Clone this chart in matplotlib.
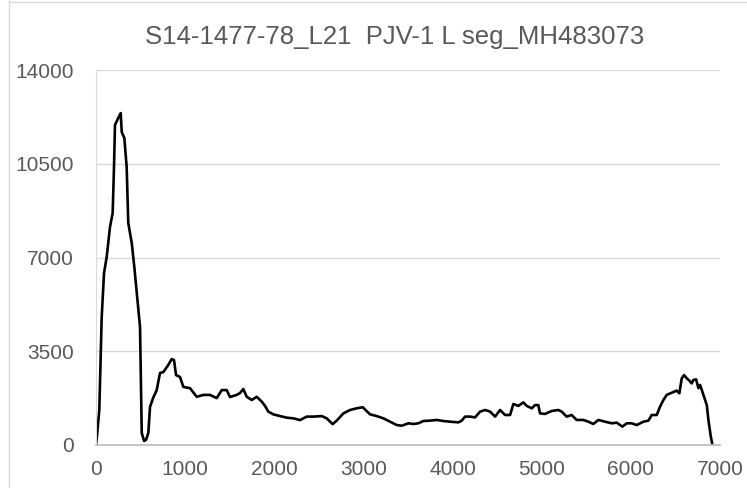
import matplotlib
matplotlib.use('Agg')
import matplotlib.pyplot as plt
from matplotlib.lines import Line2D

# posicao no genoma e cobertura
posicao = [0, 10, 37, 64, 90, 120, 157, 187, 202, 213, 250, 277, 289, 318, 344, 362,
           401, 430, 475, 494, 513, 540, 561, 587, 606, 640, 681, 718, 755, 811, 849,
           875, 898, 942, 980, 1055, 1130, 1204, 1279, 1354, 1410, 1466, 1503, 1578,
           1616, 1653, 1691, 1747, 1803, 1859, 1896, 1933, 1989, 2064, 2140, 2214,
           2289, 2364, 2438, 2532, 2588, 2655, 2700, 2775, 2850, 2925, 2992, 3074,
           3149, 3224, 3299, 3374, 3430, 3505, 3560, 3616, 3672, 3748, 3823, 3897,
           3972, 4065, 4103, 4140, 4196, 4252, 4308, 4365, 4421, 4477, 4533, 4589,
           4645, 4682, 4738, 4794, 4832, 4888, 4925, 4962, 4981, 5037, 5112, 5187,
           5224, 5280, 5336, 5392, 5467, 5523, 5579, 5636, 5711, 5786, 5842, 5905,
           5954, 6010, 6066, 6141, 6197, 6234, 6290, 6327, 6365, 6402, 6458, 6514,
           6544, 6571, 6597, 6627, 6657, 6683, 6702, 6732, 6758, 6777, 6814, 6852,
           6870, 6897, 6915]
cobertura = [0, 300, 1307, 4780, 6420, 7020, 8140, 8660, 10380, 11950, 12210, 12390,
             11680, 11460, 10380, 8290, 7540, 6640, 5040, 4400, 450, 150, 190, 450,
             1420, 1750, 2050, 2690, 2720, 2990, 3210, 3170, 2610, 2540, 2170, 2120,
             1800, 1870, 1870, 1750, 2050, 2050, 1790, 1870, 1940, 2090, 1800, 1680,
             1800, 1620, 1460, 1245, 1145, 1080, 1020, 995, 930, 1060, 1060, 1080,
             995, 780, 910, 1180, 1307, 1370, 1410, 1145, 1080, 995, 870, 745, 720,
             810, 785, 810, 895, 910, 935, 895, 870, 845, 910, 1060, 1060, 1030,
             1245, 1307, 1245, 1060, 1307, 1120, 1120, 1530, 1460, 1590, 1460, 1370,
             1490, 1490, 1180, 1160, 1270, 1307, 1245, 1060, 1120, 935, 935, 870,
             785, 935, 870, 810, 835, 685, 810, 810, 745, 870, 910, 1120, 1120, 1430,
             1680, 1870, 1950, 2030, 1930, 2490, 2610, 2490, 2400, 2300, 2430, 2450,
             2120, 2240, 1870, 1490, 935, 310, 0]

titulo = 'S14-1477-78_L21  PJV-1 L seg_MH483073'
y_ticks = [0, 3500, 7000, 10500, 14000]
x_ticks = [0, 1000, 2000, 3000, 4000, 5000, 6000, 7000]

plt.rcParams['font.family'] = ['Liberation Sans', 'DejaVu Sans']

fig = plt.figure(figsize=(7.47, 4.88), dpi=100)
ax = fig.add_axes([96/747, 43/488, 624/747, 375/488])

ax.plot(posicao, cobertura, color='black', linewidth=1.9)

ax.set_xlim(0, 7000)
ax.set_ylim(0, 14000)
ax.set_xticks(x_ticks)
ax.set_yticks(y_ticks)
ax.tick_params(length=0, labelsize=15, labelcolor='#595959')
ax.tick_params(axis='x', pad=11)
ax.tick_params(axis='y', pad=16)
ax.grid(axis='y', color='#d9d9d9', linewidth=1)
ax.set_axisbelow(True)

for s in ['top', 'right']:
    ax.spines[s].set_visible(False)
ax.spines['left'].set_color('#d9d9d9')
ax.spines['bottom'].set_color('#bfbfbf')
ax.spines['bottom'].set_linewidth(1.3)

fig.text(0.5 * (140 + 650) / 747, 1 - 37/488, titulo, ha='center', va='center',
         fontsize=18.5, color='#595959')

# borda do grafico (estilo excel)
fig.add_artist(Line2D([8.5/747, 8.5/747], [0, 1], color='#d9d9d9', linewidth=1))
fig.add_artist(Line2D([8.5/747, 1], [1 - 1.5/488, 1 - 1.5/488], color='#d9d9d9', linewidth=1))

fig.savefig('out.png', dpi=100)
